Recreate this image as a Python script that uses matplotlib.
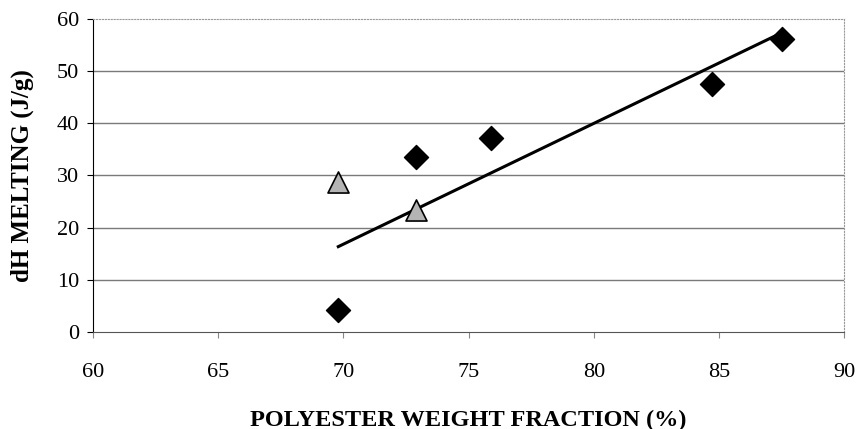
import numpy as np
import matplotlib.pyplot as plt

plt.rcParams['font.family'] = ['Liberation Serif', 'DejaVu Serif']

# Datos
x_diam = [69.8, 72.9, 75.9, 84.7, 87.5]
y_diam = [4.2, 33.6, 37.2, 47.5, 56.1]
x_tri = [69.8, 72.9]
y_tri = [28.8, 23.4]
xticks = [60, 65, 70, 75, 80, 85, 90]
yticks = [0, 10, 20, 30, 40, 50, 60]

fig = plt.figure(figsize=(8.59, 4.29), dpi=100)
ax = fig.add_axes([0.108, 0.226, 0.875, 0.730])

# Línea de tendencia lineal sobre los rombos
m, c = np.polyfit(x_diam, y_diam, 1)
xl = np.array([min(x_diam), max(x_diam) - 0.3])
ax.plot(xl, m * xl + c, color='black', lw=2.2, zorder=3)

ax.scatter(x_diam, y_diam, marker='D', s=150, color='black', zorder=4)
ax.scatter(x_tri, y_tri, marker='^', s=230, facecolor='#b4b4b4',
           edgecolor='black', linewidths=1.2, zorder=4)

ax.set_xlim(60, 90)
ax.set_ylim(0, 60)
ax.set_xticks(xticks)
ax.set_yticks(yticks)
for yv in yticks[1:-1]:
    ax.axhline(yv, color='#7a7a7a', lw=1.0, zorder=1)

ax.spines['left'].set_color('black')
ax.spines['bottom'].set_color('#555555')
ax.spines['top'].set_color('#999999')
ax.spines['top'].set_linestyle(':')
ax.spines['right'].set_color('#999999')
ax.spines['right'].set_linestyle(':')

ax.tick_params(axis='both', direction='out', length=4, width=0.8,
               labelsize=16, colors='black')
ax.tick_params(axis='x', pad=18, color='#888888')
ax.tick_params(axis='y', pad=6)

ax.set_xlabel('POLYESTER WEIGHT FRACTION (%)', fontsize=17.5,
              fontweight='bold', labelpad=20)
ax.set_ylabel('dH MELTING (J/g)', fontsize=18, fontweight='bold',
              labelpad=16)

fig.savefig('out.png', dpi=100)
